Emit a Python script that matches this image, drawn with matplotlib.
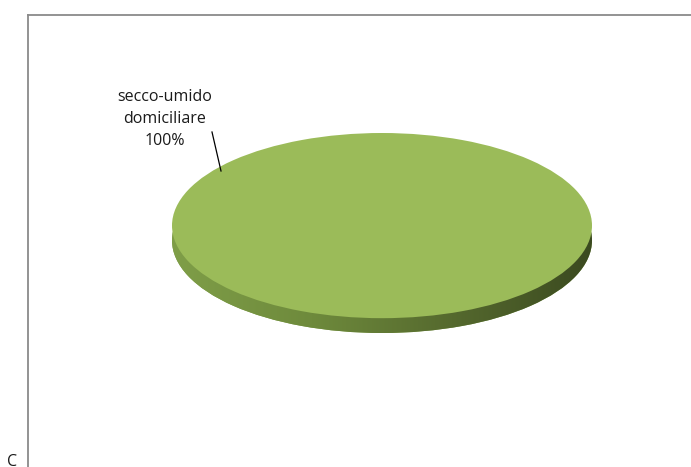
import numpy as np
from matplotlib import pyplot as plt
from matplotlib.colors import LinearSegmentedColormap

W, H = 691, 467

labels = ["secco-umido\ndomiciliare"]
values = [100]

TOP_COLOR = "#9bbb59"
SIDE_LIGHT = "#7f9e48"
SIDE_DARK = "#3b4a20"


def main():
    fig = plt.figure(figsize=(W / 100, H / 100), dpi=100)
    plt.rcParams['font.family'] = ['Open Sans', 'DejaVu Sans']

    # frame (only top and left edges are visible in the crop)
    bg = fig.add_axes([28 / W, 0, 1 - 28 / W, (H - 15) / H])
    bg.set_xticks([])
    bg.set_yticks([])
    for side in ['right', 'bottom']:
        bg.spines[side].set_visible(False)
    for side in ['top', 'left']:
        bg.spines[side].set_color('#8a8a8a')
        bg.spines[side].set_linewidth(1.3)
    bg.patch.set_alpha(0)

    # pie area, squashed to look like a tilted 3D disc
    depth = 0.16
    x0, x1 = 172, 592
    y_top, y_bot = 133, 333
    ax = fig.add_axes([x0 / W, (H - y_bot) / H, (x1 - x0) / W, (y_bot - y_top) / H])
    ax.axis('off')

    # side of the disc: gradient clipped to the lower ellipse
    side_wedges, _ = ax.pie(values, radius=1, center=(0, -depth),
                            colors=[SIDE_LIGHT], startangle=90,
                            wedgeprops=dict(linewidth=0))
    grad = np.linspace(0, 1, 256).reshape(1, -1)
    cmap = LinearSegmentedColormap.from_list(
        'side', [SIDE_LIGHT, '#6e8a3c', '#55692e', SIDE_DARK])
    img = ax.imshow(grad, cmap=cmap, extent=(-1, 1, -1 - depth, 0),
                    aspect='auto', zorder=1)
    img.set_clip_path(side_wedges[0])
    side_wedges[0].set_zorder(0.5)

    ax.pie(values, radius=1, center=(0, 0), colors=[TOP_COLOR],
           startangle=90, wedgeprops=dict(linewidth=0, zorder=2))
    ax.set_aspect('auto')
    ax.set_xlim(-1, 1)
    ax.set_ylim(-1 - depth, 1)

    pct = values[0] / sum(values) * 100
    fig.text(165 / W, 1 - 89 / H, f"{labels[0]}\n{pct:.0f}%",
             ha='center', va='top', fontsize=11.5, linespacing=1.5,
             color='#1a1a1a')
    fig.add_artist(plt.Line2D([212 / W, 221 / W], [1 - 132 / H, 1 - 171 / H],
                              color='black', linewidth=0.9))

    fig.text(7 / W, 1 - 454 / H, "C", ha='left', va='top', fontsize=11.5,
             color='#1a1a1a')

    fig.savefig('out.png', dpi=100)


if __name__ == "__main__":
    main()
